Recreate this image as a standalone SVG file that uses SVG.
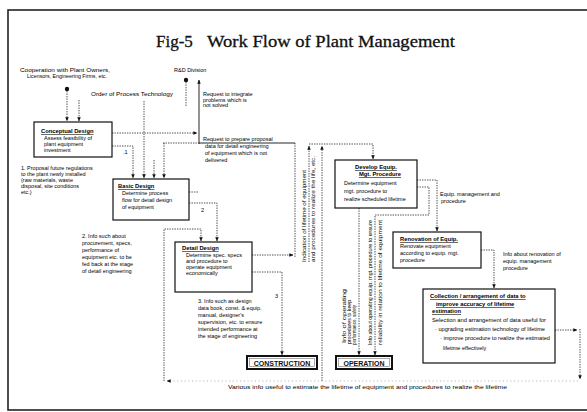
<svg xmlns="http://www.w3.org/2000/svg" width="587" height="412" viewBox="0 0 587 412">
<style>
.t{font-family:"Liberation Sans",Arial,sans-serif;font-size:5.5px;fill:#000}
.bt{font-family:"Liberation Sans",Arial,sans-serif;font-size:5.8px;font-weight:bold;fill:#000;text-decoration:underline}
.bx{fill:#fff;stroke:#111;stroke-width:1.2}
.dl{fill:none;stroke:#222;stroke-width:0.8;stroke-dasharray:1.4 1.1}
.sl{fill:none;stroke:#111;stroke-width:0.9}
.fl{fill:none;stroke:#999;stroke-width:0.7;stroke-dasharray:1.2 2.5}
.ttl{font-family:"Liberation Serif","Times New Roman",serif;font-size:17px;fill:#111;stroke:#111;stroke-width:0.3}
.op{font-family:"Liberation Sans",Arial,sans-serif;font-size:7px;font-weight:bold;fill:#111}
</style>
<defs>
<marker id="ah" viewBox="0 0 6 6" refX="5.5" refY="3" markerUnits="userSpaceOnUse" markerWidth="4" markerHeight="4" orient="auto"><path d="M0,0.4 L6,3 L0,5.6 z" fill="#111"/></marker>
</defs>
<rect width="587" height="412" fill="#fff"/>
<rect x="8" y="10" width="620" height="400" fill="none" stroke="#222" stroke-width="1.6"/>
<text class="ttl" x="156" y="47">Fig-5</text>
<text class="ttl" x="207" y="47" textLength="248" lengthAdjust="spacingAndGlyphs">Work Flow of Plant Management</text>

<g id="labels">
<text class="t" x="20" y="72" textLength="90" lengthAdjust="spacingAndGlyphs">Cooperation with Plant Owners,</text>
<text class="t" x="27" y="78" textLength="80" lengthAdjust="spacingAndGlyphs">Licensors, Engineering Firms, etc.</text>
<text class="t" x="174" y="72">R&amp;D Division</text>
<text class="t" x="91" y="96" textLength="82" lengthAdjust="spacingAndGlyphs">Order of Process Technology</text>
<text class="t" x="203" y="96">Request to integrate</text>
<text class="t" x="203" y="101.5">problems which is</text>
<text class="t" x="203" y="107">not solved</text>
<text class="t" x="203" y="141">Request to prepare proposal</text>
<text class="t" x="205" y="148">data for detail engineering</text>
<text class="t" x="205" y="155">of equipment which is not</text>
<text class="t" x="205" y="162">delivered</text>
<text class="t" x="21" y="170">1.  Proposal future regulations</text>
<text class="t" x="21" y="176">to the plant newly installed</text>
<text class="t" x="21" y="182">(raw materials, waste</text>
<text class="t" x="21" y="188">disposal, site conditions</text>
<text class="t" x="21" y="194">etc.)</text>
<text class="t" x="82" y="238">2.  Info such about</text>
<text class="t" x="82" y="245">procurement, specs,</text>
<text class="t" x="82" y="252">performance of</text>
<text class="t" x="82" y="259">equipment etc. to be</text>
<text class="t" x="82" y="266">fed back at the stage</text>
<text class="t" x="82" y="273">of detail engineering</text>
<text class="t" x="198" y="303">3.  Info such as design</text>
<text class="t" x="198" y="310">data book, const. &amp; equip.</text>
<text class="t" x="198" y="317">manual, designer's</text>
<text class="t" x="198" y="324">supervision, etc. to ensure</text>
<text class="t" x="198" y="331">intended performance at</text>
<text class="t" x="198" y="338">the stage of engineering</text>
<text class="t" x="440" y="196">Equip. management and</text>
<text class="t" x="441" y="203">procedure</text>
<text class="t" x="503" y="256">Info about renovation of</text>
<text class="t" x="503" y="263">equip. management</text>
<text class="t" x="503" y="270">procedure</text>
<text class="t" x="123" y="154">.1</text>
<text class="t" x="201" y="212">2</text>
<text class="t" x="275" y="298">3</text>
<text class="t" transform="translate(306,262) rotate(-90)" textLength="92" lengthAdjust="spacingAndGlyphs">Indication of lifetime of equipment</text>
<text class="t" transform="translate(315,262) rotate(-90)" textLength="106" lengthAdjust="spacingAndGlyphs">and procedures to realize the life, etc.</text>
<text class="t" transform="translate(346,343) rotate(-90)" textLength="54" lengthAdjust="spacingAndGlyphs">Info of operating</text>
<text class="t" transform="translate(351,344) rotate(-90)" textLength="44" lengthAdjust="spacingAndGlyphs">procedures to keep</text>
<text class="t" transform="translate(356,345) rotate(-90)" textLength="40" lengthAdjust="spacingAndGlyphs">performance, safety</text>
<text class="t" transform="translate(372,345) rotate(-90)" textLength="125" lengthAdjust="spacingAndGlyphs">Info about operating equip. mgt. procedure to ensure</text>
<text class="t" transform="translate(382,345) rotate(-90)" textLength="125" lengthAdjust="spacingAndGlyphs">reliability in relation to lifetime of equipment</text>
<text class="t" x="228" y="389" textLength="279" lengthAdjust="spacingAndGlyphs">Various info useful to estimate the lifetime of equipment and procedures to realize the lifetime</text>
</g>

<g id="connectors">
<circle cx="67" cy="89" r="2.2" fill="#111"/>
<path class="dl" d="M67,91 V121" marker-end="url(#ah)"/>
<path class="dl" d="M79,100 V121" marker-end="url(#ah)"/>
<path class="dl" d="M144,101 V178" marker-end="url(#ah)"/>
<path class="dl" d="M112,133 H197" marker-end="url(#ah)"/>
<path class="sl" d="M199,144 V80" marker-end="url(#ah)"/>
<circle cx="186" cy="80" r="2.2" fill="#111"/>
<path class="dl" d="M186,82 V106"/>
<path class="dl" d="M163,143 H199"/>
<path class="sl" d="M199,143 H295"/>
<path class="dl" d="M164,143 V178" marker-end="url(#ah)"/>
<path class="dl" d="M112,146 H133 V178" marker-end="url(#ah)"/>
<path class="dl" d="M154,160 V178" marker-end="url(#ah)"/>
<path class="dl" d="M189,192 H198"/>
<path class="dl" d="M189,203 H217 V241" marker-end="url(#ah)"/>
<path class="dl" d="M164,381 V229 H201 V241" marker-end="url(#ah)"/>
<path class="dl" d="M252,255 H293" marker-end="url(#ah)"/>
<path class="dl" d="M295,143 V257"/>
<path class="dl" d="M309,262 V146" marker-end="url(#ah)"/>
<path class="dl" d="M322,381 V146" marker-end="url(#ah)"/>
<path class="dl" d="M309,144 H373 V159" marker-end="url(#ah)"/>
<path class="dl" d="M252,272 H282 V355" marker-end="url(#ah)"/>
<path class="dl" d="M417,180 H437 V231" marker-end="url(#ah)"/>
<path class="dl" d="M417,187 H429 V215 H375 V355" marker-end="url(#ah)"/>
<path class="dl" d="M359,208 V355" marker-end="url(#ah)"/>
<path class="dl" d="M481,250 H494 V288" marker-end="url(#ah)"/>
<path class="dl" d="M555,330 H577" marker-end="url(#ah)"/>
<path class="dl" d="M580,329 V379" marker-end="url(#ah)"/>
<path class="fl" d="M578,381 H167" marker-end="url(#ah)"/>
</g>

<g id="conceptual">
<rect class="bx" x="34" y="122" width="78" height="35"/>
<text class="bt" x="41" y="133">Conceptual Design</text>
<text class="t" x="44" y="140">Assess feasibility of</text>
<text class="t" x="44" y="146">plant equipment</text>
<text class="t" x="44" y="152">investment</text>
</g>
<g id="basic">
<rect class="bx" x="113" y="179" width="76" height="41"/>
<text class="bt" x="118" y="188">Basic Design</text>
<text class="t" x="122" y="195">Determine process</text>
<text class="t" x="122" y="202">flow for detail design</text>
<text class="t" x="122" y="209">of equipment</text>
</g>
<g id="detail">
<rect class="bx" x="175" y="242" width="77" height="50"/>
<text class="bt" x="182" y="250">Detail Design</text>
<text class="t" x="186" y="257">Determine spec. specs</text>
<text class="t" x="186" y="263">and procedure to</text>
<text class="t" x="186" y="269">operate equipment</text>
<text class="t" x="186" y="275">economically</text>
</g>
<g id="develop">
<rect class="bx" x="335" y="160" width="82" height="48"/>
<text class="bt" x="376" y="169" text-anchor="middle">Develop Equip.</text>
<text class="bt" x="380" y="176" text-anchor="middle">Mgt. Procedure</text>
<text class="t" x="344" y="185">Determine equipment</text>
<text class="t" x="344" y="193">mgt. procedure to</text>
<text class="t" x="344" y="201">realize scheduled lifetime</text>
</g>
<g id="renovation">
<rect class="bx" x="393" y="232" width="88" height="36"/>
<text class="bt" x="400" y="241">Renovation of Equip.</text>
<text class="t" x="400" y="248">Renovate equipment</text>
<text class="t" x="400" y="255">according to equip. mgt.</text>
<text class="t" x="400" y="262">procedure</text>
</g>
<g id="collection">
<rect class="bx" x="423" y="289" width="132" height="74"/>
<text class="bt" x="430" y="298">Collection / arrangement of data to</text>
<text class="bt" x="436" y="306">improve accuracy of lifetime</text>
<text class="bt" x="432" y="313">estimation</text>
<text class="t" x="432" y="322" textLength="114" lengthAdjust="spacingAndGlyphs">Selection and arrangement of data useful for</text>
<text class="t" x="435" y="331" textLength="110" lengthAdjust="spacingAndGlyphs">· upgrading estimation technology of lifetime</text>
<text class="t" x="440" y="340" textLength="110" lengthAdjust="spacingAndGlyphs">· improve procedure to realize the estimated</text>
<text class="t" x="443" y="350">lifetime effectively</text>
</g>
<g id="construction">
<rect x="247" y="356" width="70" height="13" fill="#fff" stroke="#111" stroke-width="2"/>
<rect x="249.5" y="358.5" width="65" height="8" fill="none" stroke="#555" stroke-width="0.5"/>
<text class="op" x="282" y="365.5" text-anchor="middle">CONSTRUCTION</text>
</g>
<g id="operation">
<rect x="336" y="356" width="56" height="13" fill="#fff" stroke="#111" stroke-width="2"/>
<rect x="338.5" y="358.5" width="51" height="8" fill="none" stroke="#555" stroke-width="0.5"/>
<text class="op" x="364" y="365.5" text-anchor="middle">OPERATION</text>
</g>
</svg>
